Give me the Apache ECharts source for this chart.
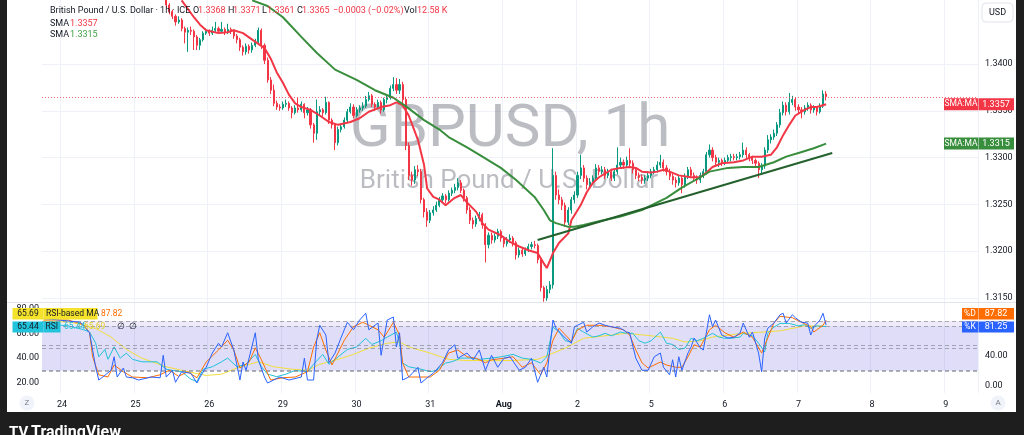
<!DOCTYPE html>
<html><head><meta charset="utf-8">
<script src="https://cdn.jsdelivr.net/npm/echarts@6/dist/echarts.min.js"></script>
<style>
html,body{margin:0;padding:0;background:#1e1e1e;width:1024px;height:435px;overflow:hidden;}
#panel{position:absolute;left:7px;top:0;width:1009px;height:412px;background:#fff;}
#c{position:absolute;left:0;top:0;width:1024px;height:435px;}
</style></head>
<body><div id="panel"></div><div id="c"></div>
<script>
// ---------- DATA ----------
const dayLabels = ['24','25','26','29','30','31','Aug','2','5','6','7','8','9'];
const firstDayBar = 6, barsPerDay = 24, nCats = 305, firstBar = 40;

const opens = [
1.3475,1.3463,1.3456,1.3451,1.3445,1.3447,1.3438,1.3434,1.3436,1.3435,
1.3429,1.3420,1.3426,1.3433,1.3435,1.3433,1.3436,1.3438,1.3435,1.3437,
1.3434,1.3437,1.3435,1.3430,1.3426,1.3418,1.3413,1.3419,1.3415,1.3420,
1.3424,1.3436,1.3420,1.3404,1.3383,1.3372,1.3358,1.3354,1.3353,1.3357,
1.3358,1.3353,1.3348,1.3353,1.3351,1.3357,1.3348,1.3351,1.3335,1.3326,
1.3349,1.3351,1.3348,1.3359,1.3340,1.3335,1.3316,1.3330,1.3333,1.3340,
1.3349,1.3354,1.3345,1.3351,1.3353,1.3355,1.3362,1.3366,1.3357,1.3354,
1.3359,1.3351,1.3362,1.3364,1.3374,1.3378,1.3372,1.3378,1.3362,1.3313,
1.3281,1.3276,1.3287,1.3285,1.3255,1.3242,1.3233,1.3241,1.3244,1.3249,
1.3255,1.3259,1.3255,1.3262,1.3265,1.3268,1.3273,1.3265,1.3257,1.3244,
1.3233,1.3229,1.3235,1.3239,1.3228,1.3207,1.3217,1.3212,1.3216,1.3221,
1.3214,1.3208,1.3212,1.3214,1.3209,1.3196,1.3201,1.3197,1.3201,1.3205,
1.3207,1.3206,1.3191,1.3161,1.3150,1.3159,1.3164,1.3281,1.3260,1.3255,
1.3249,1.3231,1.3244,1.3255,1.3260,1.3281,1.3289,1.3278,1.3271,1.3274,
1.3278,1.3289,1.3285,1.3287,1.3281,1.3285,1.3278,1.3285,1.3292,1.3295,
1.3292,1.3297,1.3294,1.3287,1.3281,1.3279,1.3276,1.3278,1.3281,1.3285,
1.3287,1.3292,1.3295,1.3289,1.3285,1.3280,1.3276,1.3273,1.3278,1.3271,
1.3280,1.3287,1.3281,1.3278,1.3276,1.3281,1.3285,1.3303,1.3308,1.3300,
1.3295,1.3297,1.3295,1.3297,1.3300,1.3301,1.3300,1.3301,1.3303,1.3308,
1.3303,1.3300,1.3297,1.3294,1.3287,1.3291,1.3308,1.3319,1.3322,1.3326,
1.3335,1.3348,1.3356,1.3349,1.3359,1.3362,1.3354,1.3351,1.3349,1.3353,
1.3356,1.3351,1.3353,1.3349,1.3355,1.3368];
const closes = [
1.3463,1.3456,1.3451,1.3445,1.3447,1.3438,1.3434,1.3436,1.3435,1.3429,
1.3420,1.3426,1.3433,1.3435,1.3433,1.3436,1.3438,1.3435,1.3437,1.3434,
1.3437,1.3435,1.3430,1.3426,1.3418,1.3413,1.3419,1.3415,1.3420,1.3424,
1.3436,1.3420,1.3404,1.3383,1.3372,1.3358,1.3354,1.3353,1.3357,1.3358,
1.3353,1.3348,1.3353,1.3351,1.3357,1.3348,1.3351,1.3335,1.3326,1.3349,
1.3351,1.3348,1.3359,1.3340,1.3335,1.3316,1.3330,1.3333,1.3340,1.3349,
1.3354,1.3345,1.3351,1.3353,1.3355,1.3362,1.3366,1.3357,1.3354,1.3359,
1.3351,1.3362,1.3364,1.3374,1.3378,1.3372,1.3378,1.3362,1.3313,1.3281,
1.3276,1.3287,1.3285,1.3255,1.3242,1.3233,1.3241,1.3244,1.3249,1.3255,
1.3259,1.3255,1.3262,1.3265,1.3268,1.3273,1.3265,1.3257,1.3244,1.3233,
1.3229,1.3235,1.3239,1.3228,1.3207,1.3217,1.3212,1.3216,1.3221,1.3214,
1.3208,1.3212,1.3214,1.3209,1.3196,1.3201,1.3197,1.3201,1.3205,1.3207,
1.3206,1.3191,1.3161,1.3150,1.3159,1.3164,1.3281,1.3260,1.3255,1.3249,
1.3231,1.3244,1.3255,1.3260,1.3281,1.3289,1.3278,1.3271,1.3274,1.3278,
1.3289,1.3285,1.3287,1.3281,1.3285,1.3278,1.3285,1.3292,1.3295,1.3292,
1.3297,1.3294,1.3287,1.3281,1.3279,1.3276,1.3278,1.3281,1.3285,1.3287,
1.3292,1.3295,1.3289,1.3285,1.3280,1.3276,1.3273,1.3278,1.3271,1.3280,
1.3287,1.3281,1.3278,1.3276,1.3281,1.3285,1.3303,1.3308,1.3300,1.3295,
1.3297,1.3295,1.3297,1.3300,1.3301,1.3300,1.3301,1.3303,1.3308,1.3303,
1.3300,1.3297,1.3294,1.3287,1.3291,1.3308,1.3319,1.3322,1.3326,1.3335,
1.3348,1.3356,1.3349,1.3359,1.3362,1.3354,1.3351,1.3349,1.3353,1.3356,
1.3351,1.3353,1.3349,1.3355,1.3368,1.3365];
const highs = [
1.3478,1.3465,1.3458,1.3453,1.3451,1.3449,1.3440,1.3439,1.3440,1.3437,
1.3431,1.3428,1.3435,1.3438,1.3437,1.3440,1.3445,1.3440,1.3445,1.3439,
1.3443,1.3439,1.3437,1.3432,1.3428,1.3420,1.3422,1.3421,1.3423,1.3427,
1.3439,1.3438,1.3422,1.3407,1.3386,1.3378,1.3361,1.3357,1.3360,1.3362,
1.3360,1.3355,1.3356,1.3364,1.3360,1.3358,1.3354,1.3353,1.3337,1.3362,
1.3355,1.3353,1.3365,1.3360,1.3342,1.3337,1.3333,1.3336,1.3343,1.3352,
1.3358,1.3357,1.3354,1.3356,1.3359,1.3366,1.3370,1.3368,1.3359,1.3362,
1.3361,1.3364,1.3368,1.3377,1.3386,1.3385,1.3384,1.3381,1.3365,1.3316,
1.3285,1.3291,1.3292,1.3288,1.3257,1.3246,1.3244,1.3248,1.3253,1.3258,
1.3262,1.3261,1.3265,1.3268,1.3272,1.3278,1.3276,1.3267,1.3259,1.3247,
1.3236,1.3238,1.3242,1.3241,1.3230,1.3220,1.3220,1.3219,1.3224,1.3223,
1.3216,1.3215,1.3218,1.3216,1.3211,1.3204,1.3203,1.3204,1.3208,1.3210,
1.3211,1.3208,1.3193,1.3163,1.3163,1.3168,1.3310,1.3285,1.3266,1.3258,
1.3252,1.3247,1.3258,1.3264,1.3285,1.3303,1.3292,1.3281,1.3278,1.3281,
1.3293,1.3292,1.3291,1.3290,1.3288,1.3288,1.3288,1.3311,1.3300,1.3298,
1.3301,1.3310,1.3297,1.3290,1.3284,1.3282,1.3281,1.3285,1.3288,1.3290,
1.3296,1.3303,1.3298,1.3292,1.3288,1.3283,1.3279,1.3281,1.3280,1.3283,
1.3290,1.3290,1.3284,1.3281,1.3284,1.3288,1.3306,1.3314,1.3311,1.3303,
1.3300,1.3299,1.3300,1.3303,1.3304,1.3304,1.3304,1.3306,1.3316,1.3311,
1.3305,1.3302,1.3299,1.3296,1.3294,1.3311,1.3324,1.3325,1.3330,1.3338,
1.3352,1.3360,1.3359,1.3369,1.3366,1.3364,1.3357,1.3354,1.3356,1.3359,
1.3358,1.3356,1.3355,1.3358,1.3372,1.3371];
const lows = [
1.3460,1.3453,1.3448,1.3441,1.3443,1.3435,1.3422,1.3413,1.3431,1.3415,
1.3415,1.3415,1.3424,1.3431,1.3430,1.3431,1.3434,1.3432,1.3433,1.3431,
1.3432,1.3432,1.3427,1.3422,1.3414,1.3409,1.3410,1.3411,1.3412,1.3418,
1.3421,1.3416,1.3400,1.3380,1.3368,1.3355,1.3351,1.3350,1.3351,1.3354,
1.3350,1.3342,1.3346,1.3348,1.3349,1.3342,1.3345,1.3331,1.3316,1.3319,
1.3345,1.3344,1.3346,1.3336,1.3331,1.3308,1.3313,1.3327,1.3331,1.3338,
1.3347,1.3342,1.3343,1.3348,1.3350,1.3353,1.3360,1.3354,1.3350,1.3352,
1.3347,1.3349,1.3358,1.3362,1.3371,1.3368,1.3368,1.3358,1.3308,1.3276,
1.3270,1.3272,1.3280,1.3251,1.3236,1.3226,1.3230,1.3238,1.3242,1.3247,
1.3252,1.3251,1.3253,1.3259,1.3262,1.3265,1.3262,1.3253,1.3240,1.3229,
1.3224,1.3226,1.3232,1.3224,1.3188,1.3203,1.3208,1.3209,1.3213,1.3210,
1.3204,1.3205,1.3209,1.3205,1.3191,1.3193,1.3194,1.3195,1.3199,1.3202,
1.3203,1.3187,1.3157,1.3146,1.3147,1.3155,1.3160,1.3255,1.3250,1.3244,
1.3226,1.3228,1.3240,1.3251,1.3257,1.3277,1.3274,1.3266,1.3268,1.3271,
1.3275,1.3281,1.3282,1.3277,1.3278,1.3275,1.3275,1.3282,1.3289,1.3288,
1.3289,1.3290,1.3283,1.3277,1.3275,1.3272,1.3272,1.3275,1.3278,1.3282,
1.3284,1.3289,1.3285,1.3281,1.3276,1.3271,1.3268,1.3270,1.3262,1.3268,
1.3277,1.3278,1.3274,1.3272,1.3273,1.3278,1.3282,1.3300,1.3296,1.3291,
1.3290,1.3291,1.3292,1.3294,1.3296,1.3297,1.3297,1.3298,1.3300,1.3299,
1.3296,1.3293,1.3290,1.3278,1.3283,1.3288,1.3305,1.3315,1.3319,1.3323,
1.3332,1.3345,1.3345,1.3346,1.3356,1.3350,1.3347,1.3342,1.3346,1.3350,
1.3347,1.3348,1.3345,1.3347,1.3353,1.3361];

// SMA lines: [bar index, value]
const smaFast = [[45,1.3468],[49,1.3450],[51,1.3442],[53,1.3436],[57,1.3433],[60,1.3434],[62,1.3436],[65,1.3433],[68,1.3426],[72,1.3417],[74,1.3406],[76,1.3391],[78,1.3380],[80,1.3367],[82,1.3358],[84,1.3354],[87,1.3351],[90,1.3345],[93,1.3338],[96,1.3335],[100,1.3338],[103,1.3342],[106,1.3349],[110,1.3354],[113,1.3356],[115,1.3359],[117,1.3356],[119,1.3345],[122,1.3319],[124,1.3292],[125,1.3267],[127,1.3258],[129,1.3255],[131,1.3249],[134,1.3257],[136,1.3260],[138,1.3252],[141,1.3242],[143,1.3230],[145,1.3223],[149,1.3217],[152,1.3210],[155,1.3205],[158,1.3201],[161,1.3198],[163,1.3187],[164,1.3182],[166,1.3198],[168,1.3209],[171,1.3219],[172,1.3233],[175,1.3249],[177,1.3263],[179,1.3273],[181,1.3279],[185,1.3287],[188,1.3289],[191,1.3290],[193,1.3289],[195,1.3285],[198,1.3284],[200,1.3285],[202,1.3287],[204,1.3285],[207,1.3281],[211,1.3279],[214,1.3279],[216,1.3284],[218,1.3290],[221,1.3294],[225,1.3295],[228,1.3297],[231,1.3301],[234,1.3301],[237,1.3303],[239,1.3311],[241,1.3324],[243,1.3335],[245,1.3345],[248,1.3351],[250,1.3354],[252,1.3354],[254,1.3356],[255,1.3357]];
const smaSlow = [[68,1.3468],[73,1.3462],[78,1.3450],[84,1.3429],[89,1.3412],[95,1.3394],[102,1.3383],[108,1.3372],[114,1.3364],[118,1.3355],[124,1.3340],[129,1.3330],[132,1.3322],[138,1.3311],[143,1.3301],[149,1.3289],[154,1.3276],[160,1.3258],[163,1.3244],[165,1.3233],[167,1.3230],[171,1.3226],[173,1.3226],[176,1.3228],[181,1.3232],[188,1.3237],[195,1.3244],[203,1.3257],[208,1.3268],[214,1.3279],[217,1.3285],[223,1.3289],[228,1.3290],[233,1.3290],[238,1.3295],[242,1.3301],[246,1.3305],[251,1.3310],[255,1.3315]];
const trendLine = [[161,1.3212],[257,1.3305]];

// lower pane indicators: [bar index, value]
const stochK = [[0,90],[5,88],[12,85],[15,71],[17,25],[18,8],[19,11],[22,21],[23,39],[24,12],[26,24],[27,12],[29,11],[31,8],[35,12],[38,11],[39,41],[40,12],[42,21],[43,5],[45,19],[48,17],[50,4],[51,12],[53,25],[55,44],[57,57],[58,52],[60,71],[62,48],[64,8],[65,32],[66,21],[69,71],[70,35],[72,12],[73,4],[75,8],[77,12],[80,8],[84,12],[85,37],[86,8],[88,8],[89,61],[90,81],[92,68],[93,31],[95,44],[97,65],[99,85],[101,75],[103,88],[105,97],[106,75],[109,84],[110,41],[112,88],[114,92],[115,52],[116,71],[117,8],[119,12],[122,25],[123,4],[125,11],[127,17],[130,31],[132,48],[134,55],[135,37],[138,44],[140,35],[142,48],[144,21],[146,41],[148,25],[150,37],[152,39],[155,21],[157,25],[159,37],[161,5],[163,25],[164,12],[166,88],[167,77],[170,64],[172,57],[173,79],[174,81],[176,85],[177,72],[179,79],[181,84],[183,81],[185,79],[188,77],[190,72],[191,71],[193,37],[195,21],[197,21],[199,39],[201,44],[202,25],[204,15],[205,35],[206,12],[207,39],[208,21],[210,44],[211,52],[212,64],[214,51],[215,48],[217,95],[218,79],[219,88],[221,68],[223,64],[225,65],[227,71],[228,84],[230,65],[231,72],[233,44],[234,19],[235,64],[236,77],[238,84],[240,95],[241,97],[242,84],[244,95],[245,91],[247,85],[249,84],[250,68],[251,79],[253,88],[254,97],[255,81.25]];
const stochD = [[0,88],[8,88],[13,82],[15,71],[16,39],[18,15],[21,12],[23,28],[26,19],[29,12],[34,11],[38,15],[41,21],[44,13],[47,19],[50,11],[53,32],[57,48],[60,61],[62,48],[64,24],[67,32],[69,51],[71,35],[74,8],[78,11],[82,12],[86,19],[88,52],[90,71],[92,48],[94,28],[98,61],[101,79],[104,85],[106,81],[109,75],[111,65],[114,85],[116,68],[117,31],[119,12],[123,12],[126,12],[129,21],[132,44],[135,48],[138,39],[141,37],[144,31],[146,35],[150,37],[153,39],[156,25],[159,31],[162,15],[164,31],[166,61],[168,77],[171,64],[172,59],[174,75],[177,81],[181,81],[185,79],[189,75],[191,68],[193,48],[195,31],[197,24],[201,32],[203,28],[206,25],[208,25],[210,39],[212,55],[214,52],[217,75],[219,81],[222,71],[225,65],[228,72],[231,65],[234,44],[236,64],[238,84],[240,93],[244,91],[247,85],[250,79],[251,72],[254,81],[255,87.82]];
const rsi = [[0,68],[8,66],[13,63],[15,61],[17,52],[18,41],[20,47],[21,39],[23,49],[25,40],[27,44],[29,39],[32,37],[37,37],[40,31],[42,30],[45,29],[48,23],[50,21],[52,31],[55,33],[58,37],[60,40],[63,33],[66,35],[69,43],[71,33],[73,27],[76,25],[79,27],[82,30],[86,29],[88,35],[91,43],[93,35],[96,41],[99,47],[102,49],[105,56],[107,51],[110,54],[112,57],[115,61],[116,52],[117,36],[119,33],[123,31],[126,29],[128,30],[131,36],[133,37],[136,40],[139,40],[142,39],[146,40],[149,41],[153,43],[156,40],[159,39],[162,36],[164,41],[166,65],[168,61],[170,54],[172,53],[174,64],[176,61],[179,57],[181,58],[183,60],[185,58],[188,61],[190,60],[192,60],[194,54],[196,52],[198,54],[201,61],[203,52],[205,51],[207,47],[209,48],[211,56],[213,54],[215,56],[218,60],[220,57],[222,56],[224,56],[227,57],[228,60],[231,58],[233,52],[235,45],[236,60],[238,65],[240,68],[243,68],[246,66],[248,67],[250,64],[252,66],[255,65.44]];
const rsiMA = [[0,70],[9,69],[17,64],[22,57],[27,47],[32,40],[40,33],[47,29],[53,26],[58,27],[64,33],[70,37],[75,33],[81,31],[86,30],[90,35],[96,39],[101,43],[106,48],[112,52],[116,53],[119,49],[126,44],[132,39],[138,38],[145,38],[152,38],[161,39],[170,48],[176,56],[183,58],[190,60],[198,58],[205,56],[209,53],[214,54],[218,57],[228,60],[240,62],[248,66],[255,65.69]];

const priceTicks = [1.315,1.32,1.325,1.33,1.335,1.34];
const rsiTicks = [20,40,60,80];
const stochTicks = [0,40,80];
const lastPrice = 1.3365, smaFastLast = 1.3357, smaSlowLast = 1.3315;

// ---------- CHART ----------
const UP = '#089981', DOWN = '#F23645';
const FONT = 'Roboto, "Noto Sans", sans-serif';
const isDay = i => i >= firstDayBar && (i - firstDayBar) % barsPerDay === 0;
const categories = [];
for (let i = 0; i < nCats; i++) {
  const d = Math.floor((i - firstDayBar) / barsPerDay);
  const h = (((i - firstDayBar) % 24) + 24) % 24;
  categories.push((d < 0 ? '23' : dayLabels[d]) + ' ' + String(h).padStart(2, '0') + ':00');
}
const candleData = categories.map((_, i) => {
  const k = i - firstBar;
  return (k >= 0 && k < closes.length) ? [opens[k], closes[k], lows[k], highs[k]] : '-';
});
const dash = {color: 'rgba(120,123,134,0.6)', type: [4, 3], width: 1};

const chart = echarts.init(document.getElementById('c'), null, {width: 1024, height: 435});
chart.setOption({
  animation: false,
  backgroundColor: 'transparent',
  grid: [
    {left: 42, top: 0, width: 936, height: 302},
    {left: 42, top: 303, width: 936, height: 90}
  ],
  xAxis: [
    {type: 'category', gridIndex: 0, data: categories, axisLine: {show: false},
     axisTick: {show: false, alignWithLabel: true, interval: i => isDay(i)},
     axisLabel: {show: false, interval: i => isDay(i)},
     splitLine: {show: true, interval: i => isDay(i), lineStyle: {color: '#eef1f7', width: 1}}},
    {type: 'category', gridIndex: 1, data: categories, axisLine: {show: false},
     axisTick: {show: false, alignWithLabel: true, interval: i => isDay(i)},
     axisLabel: {show: true, interval: i => isDay(i), margin: 7, color: '#131722', fontSize: 9, fontFamily: FONT,
       formatter: (v, i) => { const l = dayLabels[(i - firstDayBar) / barsPerDay]; return l === 'Aug' ? '{b|Aug}' : l; },
       rich: {b: {fontWeight: 'bold', fontSize: 9, color: '#131722', fontFamily: FONT}}},
     splitLine: {show: true, interval: i => isDay(i), lineStyle: {color: '#eef1f7', width: 1}}}
  ],
  yAxis: [
    {type: 'value', gridIndex: 0, position: 'right', min: 1.31457, max: 1.34684,
     axisLine: {show: false}, axisTick: {show: false, customValues: priceTicks},
     axisLabel: {customValues: priceTicks, formatter: v => v.toFixed(4), color: '#131722', fontSize: 9, fontFamily: FONT, margin: 7},
     splitLine: {show: true, lineStyle: {color: '#eef1f7'}}},
    {type: 'value', gridIndex: 1, position: 'left', min: 11.8, max: 84.5,
     axisLine: {show: false}, axisTick: {show: false, customValues: rsiTicks},
     axisLabel: {customValues: rsiTicks, formatter: v => v.toFixed(2), color: '#131722', fontSize: 9, fontFamily: FONT, margin: 3},
     splitLine: {show: false}},
    {type: 'value', gridIndex: 1, position: 'right', min: -9.3, max: 110.7,
     axisLine: {show: false}, axisTick: {show: false, customValues: stochTicks},
     axisLabel: {customValues: stochTicks, formatter: v => v.toFixed(2), color: '#131722', fontSize: 9, fontFamily: FONT, margin: 7},
     splitLine: {show: false}}
  ],
  series: [
    {type: 'candlestick', xAxisIndex: 0, yAxisIndex: 0, data: candleData, barWidth: 1.6, clip: true, z: 3,
     itemStyle: {color: UP, color0: DOWN, borderColor: UP, borderColor0: DOWN, borderWidth: 1}},
    {type: 'line', xAxisIndex: 0, yAxisIndex: 0, data: smaFast, symbol: 'none', z: 4,
     lineStyle: {color: '#F23645', width: 2},
     markLine: {silent: true, precision: 5, symbol: ['none', 'none'], label: {show: false},
       lineStyle: {color: 'rgba(242,54,69,0.75)', type: [1, 2], width: 1}, data: [{yAxis: lastPrice}]}},
    {type: 'line', xAxisIndex: 0, yAxisIndex: 0, data: smaSlow, symbol: 'none', z: 4,
     lineStyle: {color: '#388E3C', width: 2}},
    {type: 'line', xAxisIndex: 0, yAxisIndex: 0, data: trendLine, symbol: 'none', z: 5,
     lineStyle: {color: '#24612d', width: 2}},
    {type: 'line', xAxisIndex: 1, yAxisIndex: 1, data: rsiMA, symbol: 'none', z: 3,
     lineStyle: {color: '#F2DE3A', width: 1},
     markArea: {silent: true, itemStyle: {color: 'rgba(126,87,194,0.12)'}, data: [[{yAxis: 70}, {yAxis: 30}]]},
     markLine: {silent: true, symbol: ['none', 'none'], label: {show: false}, lineStyle: dash, data: [{yAxis: 70}, {yAxis: 50}, {yAxis: 30}]}},
    {type: 'line', xAxisIndex: 1, yAxisIndex: 1, data: rsi, symbol: 'none', z: 4,
     lineStyle: {color: '#22C1D9', width: 1}},
    {type: 'line', xAxisIndex: 1, yAxisIndex: 2, data: stochD, symbol: 'none', z: 5,
     lineStyle: {color: '#FF6D00', width: 1},
     markArea: {silent: true, itemStyle: {color: 'rgba(80,100,240,0.1)'}, data: [[{yAxis: 80}, {yAxis: 20}]]},
     markLine: {silent: true, symbol: ['none', 'none'], label: {show: false}, lineStyle: dash, data: [{yAxis: 80}, {yAxis: 50}, {yAxis: 20}]}},
    {type: 'line', xAxisIndex: 1, yAxisIndex: 2, data: stochK, symbol: 'none', z: 6,
     lineStyle: {color: '#2962FF', width: 1}}
  ]
});

// ---------- overlays (legend, labels, watermark) ----------
const G = [];
function T(x, y, text, fill, size, opt) {
  opt = opt || {};
  const al = opt.align || 'left';
  G.push({type: 'text', x: x, y: y, z: opt.z == null ? 100 : opt.z, silent: true,
    style: {text: text, fill: fill, font: (opt.bold ? 'bold ' : '') + (size || 9) + 'px ' + FONT,
      align: al, verticalAlign: 'middle', textAlign: al, textVerticalAlign: 'middle'}});
}
function R(x, y, w, h, fill, opt) {
  opt = opt || {};
  G.push({type: 'rect', z: opt.z == null ? 99 : opt.z, silent: true,
    shape: {x: x, y: y, width: w, height: h, r: opt.r || 0},
    style: {fill: fill, stroke: opt.stroke || null, lineWidth: opt.stroke ? 1 : 0}});
}
// watermark
T(510, 131, 'GBPUSD, 1h', 'rgba(120,123,134,0.5)', 60, {align: 'center', z: 1});
T(509, 181, 'British Pound / U.S. Dollar', 'rgba(120,123,134,0.5)', 26, {align: 'center', z: 1});
// pane separator
R(7, 302, 1009, 1, '#e0e3eb', {z: 50});
// top legend
const DK = '#131722', RD = '#F23645';
T(50, 11, 'British Pound / U.S. Dollar · 1h · ICE', DK, 9);
T(193, 11, 'O', DK, 9); T(198, 11, '1.3368', RD, 9);
T(228, 11, 'H', DK, 9); T(233, 11, '1.3371', RD, 9);
T(262, 11, 'L', DK, 9); T(267, 11, '1.3361', RD, 9);
T(297, 11, 'C', DK, 9); T(302, 11, '1.3365', RD, 9);
T(333, 11, '−0.0003 (−0.02%)', RD, 9);
T(404, 11, 'Vol', DK, 9); T(417, 11, '12.58 K', RD, 9);
T(50, 24, 'SMA', DK, 9); T(70, 24, '1.3357', RD, 9);
T(50, 34.5, 'SMA', DK, 9); T(70, 34.5, '1.3315', '#43A047', 9);
// USD box
R(982, 3, 31, 19, '#ffffff', {stroke: '#e0e3eb', r: 4});
T(997.5, 12.5, 'USD', DK, 9, {align: 'center'});
// SMA:MA price-scale labels (positioned through the price scale)
[[smaFastLast, '#F23645'], [smaSlowLast, '#388E3C']].forEach(([v, col]) => {
  const y = chart.convertToPixel({yAxisIndex: 0}, v);
  R(944, y - 6, 34, 12, col);
  T(961, y, 'SMA:MA', '#ffffff', 8.5, {align: 'center'});
  R(978.5, y - 6, 35.5, 12, col);
  T(996, y, v.toFixed(4), '#ffffff', 9, {align: 'center'});
});
// lower pane legend remnants
T(101, 313.8, '87.82', '#FF6D00', 8.5, {z: 98});
T(64, 327, '65.44', '#22C1D9', 8.5, {z: 98});
T(84, 327, '65.69', '#E3CF2A', 8.5, {z: 98});
T(117, 327, '∅', '#131722', 8.5, {z: 98});
T(129, 327, '∅', '#131722', 8.5, {z: 98});
// lower pane value boxes
R(12.5, 308, 31, 11.5, '#F5E22B'); T(28, 313.8, '65.69', DK, 8.5, {align: 'center'});
R(43.5, 308, 54, 11.5, '#F5E22B'); T(46, 313.8, 'RSI-based MA', DK, 8.5);
R(12.5, 321.5, 31, 11, '#22C4DC'); T(28, 327, '65.44', DK, 8.5, {align: 'center'});
R(43.5, 321.5, 17, 11, '#22C4DC'); T(45.5, 327, 'RSI', DK, 8.5);
R(962, 308, 16, 11.5, '#FF6D00'); T(970, 313.8, '%D', '#ffffff', 8.5, {align: 'center'});
R(978.5, 308, 35.5, 11.5, '#FF6D00'); T(996, 313.8, '87.82', '#ffffff', 9, {align: 'center'});
R(962, 321.5, 16, 11, '#2962FF'); T(970, 327, '%K', '#ffffff', 8.5, {align: 'center'});
R(978.5, 321.5, 35.5, 11, '#2962FF'); T(996, 327, '81.25', '#ffffff', 9, {align: 'center'});
// time-axis corner buttons
G.push({type: 'circle', z: 99, silent: true, shape: {cx: 27, cy: 403, r: 7.5}, style: {fill: '#f0f3fa'}});
T(27, 403, 'Z', '#787b86', 8, {align: 'center'});
G.push({type: 'circle', z: 99, silent: true, shape: {cx: 998, cy: 403, r: 7.5}, style: {fill: '#f0f3fa'}});
T(998, 403, 'A', '#787b86', 8, {align: 'center'});
// footer brand
T(9, 433, 'TV', '#ffffff', 15, {bold: true});
T(31, 433, 'TradingView', '#ffffff', 16, {bold: true});
chart.setOption({graphic: G});
</script></body></html>
